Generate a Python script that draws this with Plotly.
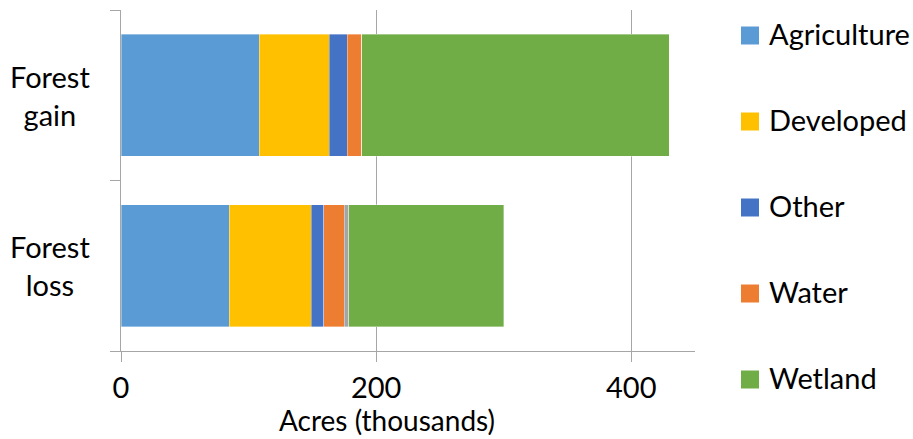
import plotly.graph_objects as go

# Land-cover change behind forest gain and forest loss (thousands of acres)
categories = ["Forest loss", "Forest gain"]
agriculture = [84.9, 108.4]
developed = [64.3, 54.9]
other = [9.6, 14.1]
water = [16.2, 11.2]
barren = [3.4, 0.0]
wetland = [121.5, 241.2]

series = [
    ("Agriculture", agriculture, "#5B9BD5", True),
    ("Developed", developed, "#FFC000", True),
    ("Other", other, "#4472C4", True),
    ("Water", water, "#ED7D31", True),
    ("Barren", barren, "#A5A5A5", False),
    ("Wetland", wetland, "#70AD47", True),
]

W, H = 913, 439
ML, MR, MT, MB = 121, 218, 10, 88
PW, PH = W - ML - MR, H - MT - MB
FONT = "Lato"
AXIS_GREY = "#A6A6A6"


def px_x(x):
    return (x - ML) / PW


def px_y(y):
    return (H - MB - y) / PH


fig = go.Figure()
for name, vals, color, _ in series:
    fig.add_trace(go.Bar(
        y=categories, x=vals, name=name, orientation="h",
        marker=dict(color=color, line=dict(color="rgba(255,255,255,0.45)", width=0.8)),
        showlegend=False,
    ))

# Category labels, centred in the left margin
for cat in categories:
    fig.add_annotation(
        x=px_x(50), xref="paper", y=cat, yref="y",
        text=cat.replace(" ", "<br>"), showarrow=False,
        xanchor="center", yanchor="middle", align="center",
        font=dict(family=FONT, size=29, color="#000000"),
    )

# Legend: coloured squares with labels on the right
legend_rows = [s for s in series if s[3]]
for i, (name, _, color, _) in enumerate(legend_rows):
    cy = 35.5 + 86 * i
    fig.add_shape(
        type="rect", xref="paper", yref="paper",
        x0=px_x(741), x1=px_x(759), y0=px_y(cy + 9), y1=px_y(cy - 9),
        fillcolor=color, line=dict(width=0),
    )
    fig.add_annotation(
        x=px_x(767), xref="paper", y=px_y(cy - 2), yref="paper",
        text=name, showarrow=False, xanchor="left", yanchor="middle",
        font=dict(family=FONT, size=29, color="#000000"),
    )

# Axis title
fig.add_annotation(
    x=px_x(387), xref="paper", y=px_y(420), yref="paper",
    text="Acres (thousands)", showarrow=False,
    xanchor="center", yanchor="middle",
    font=dict(family=FONT, size=28, color="#000000"),
)

fig.update_layout(
    width=W, height=H,
    margin=dict(l=ML, r=MR, t=MT, b=MB, pad=0),
    barmode="stack", bargap=0.287,
    plot_bgcolor="white", paper_bgcolor="white",
    font=dict(family=FONT, size=29, color="#000000"),
    showlegend=False,
    xaxis=dict(
        range=[0, 450], tickvals=[0, 200, 400],
        showgrid=True, gridcolor=AXIS_GREY, gridwidth=1.3,
        zeroline=False, showline=True, linecolor=AXIS_GREY, linewidth=1.3,
        ticks="outside", ticklen=10, tickcolor=AXIS_GREY, tickwidth=1.3,
        ticklabelstandoff=1,
        tickfont=dict(family=FONT, size=29, color="#000000"),
    ),
    yaxis=dict(
        categoryorder="array", categoryarray=categories,
        showgrid=False, zeroline=False, showline=True,
        linecolor=AXIS_GREY, linewidth=1.3,
        ticks="outside", tickson="boundaries", ticklen=10,
        tickcolor=AXIS_GREY, tickwidth=1.3, showticklabels=False,
    ),
)

fig.write_html("out.html")
